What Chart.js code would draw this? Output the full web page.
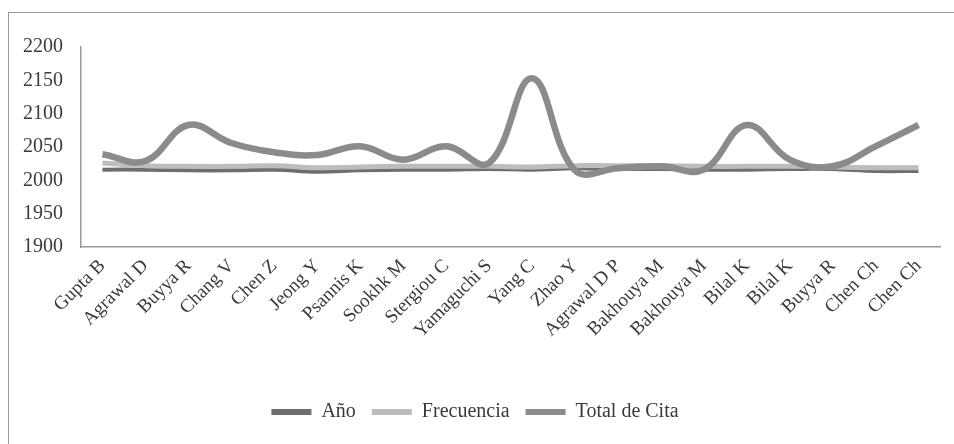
<!DOCTYPE html>
<html>
<head>
<meta charset="utf-8">
<script src="https://cdn.jsdelivr.net/npm/chart.js@4/dist/chart.umd.min.js"></script>
<style>
  html, body { margin: 0; padding: 0; background: #ffffff; }
  #wrap { position: relative; width: 954px; height: 444px; overflow: hidden; }
  #frame { position: absolute; left: 8px; top: 12px; width: 980px; height: 480px; border: 1px solid #9a9a9a; box-sizing: border-box; }
  canvas { position: absolute; left: 0; top: 0; }
</style>
</head>
<body>
<div id="wrap">
  <div id="frame"></div>
  <canvas id="c" width="954" height="444"></canvas>
</div>
<script>
// Authors
const categories = ['Gupta B', 'Agrawal D', 'Buyya R', 'Chang V', 'Chen Z', 'Jeong Y', 'Psannis K',
  'Sookhk M', 'Stergiou C', 'Yamaguchi S', 'Yang C', 'Zhao Y', 'Agrawal D P', 'Bakhouya M',
  'Bakhouya M', 'Bilal K', 'Bilal K', 'Buyya R', 'Chen Ch', 'Chen Ch'];

// Series
const anio = [2016, 2016, 2015, 2015, 2016, 2013, 2015, 2016, 2016, 2017,
              2016, 2018, 2017, 2017, 2016, 2016, 2017, 2017, 2014, 2014];
const frecuencia = [2026, 2022, 2021, 2021, 2022, 2019, 2020, 2021, 2021, 2021,
                    2020, 2022, 2022, 2022, 2021, 2021, 2021, 2020, 2019, 2019];
const totalCita = [2039, 2029, 2083, 2056, 2042, 2038, 2051, 2031, 2051, 2026,
                   2153, 2015, 2018, 2021, 2016, 2083, 2031, 2021, 2051, 2083];

// Value axis
const yMin = 1900;
const yMax = 2200;
const yStep = 50;

const serif = 'Liberation Serif, Times New Roman, serif';
const textColor = '#3a3a3a';

new Chart(document.getElementById('c'), {
  type: 'line',
  data: {
    labels: categories,
    datasets: [
      { label: 'Año', data: anio, borderColor: '#6e6e6e', backgroundColor: '#6e6e6e',
        borderWidth: 4, tension: 0.4, pointRadius: 0, order: 2 },
      { label: 'Frecuencia', data: frecuencia, borderColor: '#bdbdbd', backgroundColor: '#bdbdbd',
        borderWidth: 5, tension: 0.4, pointRadius: 0, order: 1 },
      { label: 'Total de Cita', data: totalCita, borderColor: '#8b8b8b', backgroundColor: '#8b8b8b',
        borderWidth: 6.5, tension: 0.4, pointRadius: 0, order: 0 }
    ]
  },
  options: {
    responsive: false,
    animation: false,
    layout: { padding: { left: 10, top: 47, right: 14, bottom: 12 } },
    plugins: {
      tooltip: { enabled: false },
      legend: {
        position: 'bottom',
        labels: {
          font: { family: serif, size: 20 },
          color: textColor,
          boxWidth: 40,
          boxHeight: 6,
          padding: 16,
          sort: (a, b) => a.datasetIndex - b.datasetIndex,
          generateLabels: (chart) => chart.data.datasets.map((ds, i) => ({
            text: ds.label,
            fillStyle: ds.borderColor,
            strokeStyle: ds.borderColor,
            lineWidth: 0,
            fontColor: textColor,
            datasetIndex: i,
            hidden: false
          }))
        }
      }
    },
    scales: {
      x: {
        grid: { display: false, drawTicks: false },
        border: { display: true, color: '#9a9a9a', width: 1.5 },
        offset: true,
        ticks: {
          font: { family: serif, size: 19 },
          color: textColor,
          maxRotation: 45,
          minRotation: 45,
          autoSkip: false,
          padding: 8
        },
        afterFit: (scale) => { scale.height = 139; }
      },
      y: {
        min: yMin,
        max: yMax,
        grid: { display: false, drawTicks: false },
        border: { display: true, color: '#9a9a9a', width: 1.5 },
        ticks: {
          stepSize: yStep,
          font: { family: serif, size: 20 },
          color: textColor,
          padding: 18,
          callback: (v) => String(v)
        },
        afterFit: (scale) => { scale.width = 71; }
      }
    }
  }
});
</script>
</body>
</html>
